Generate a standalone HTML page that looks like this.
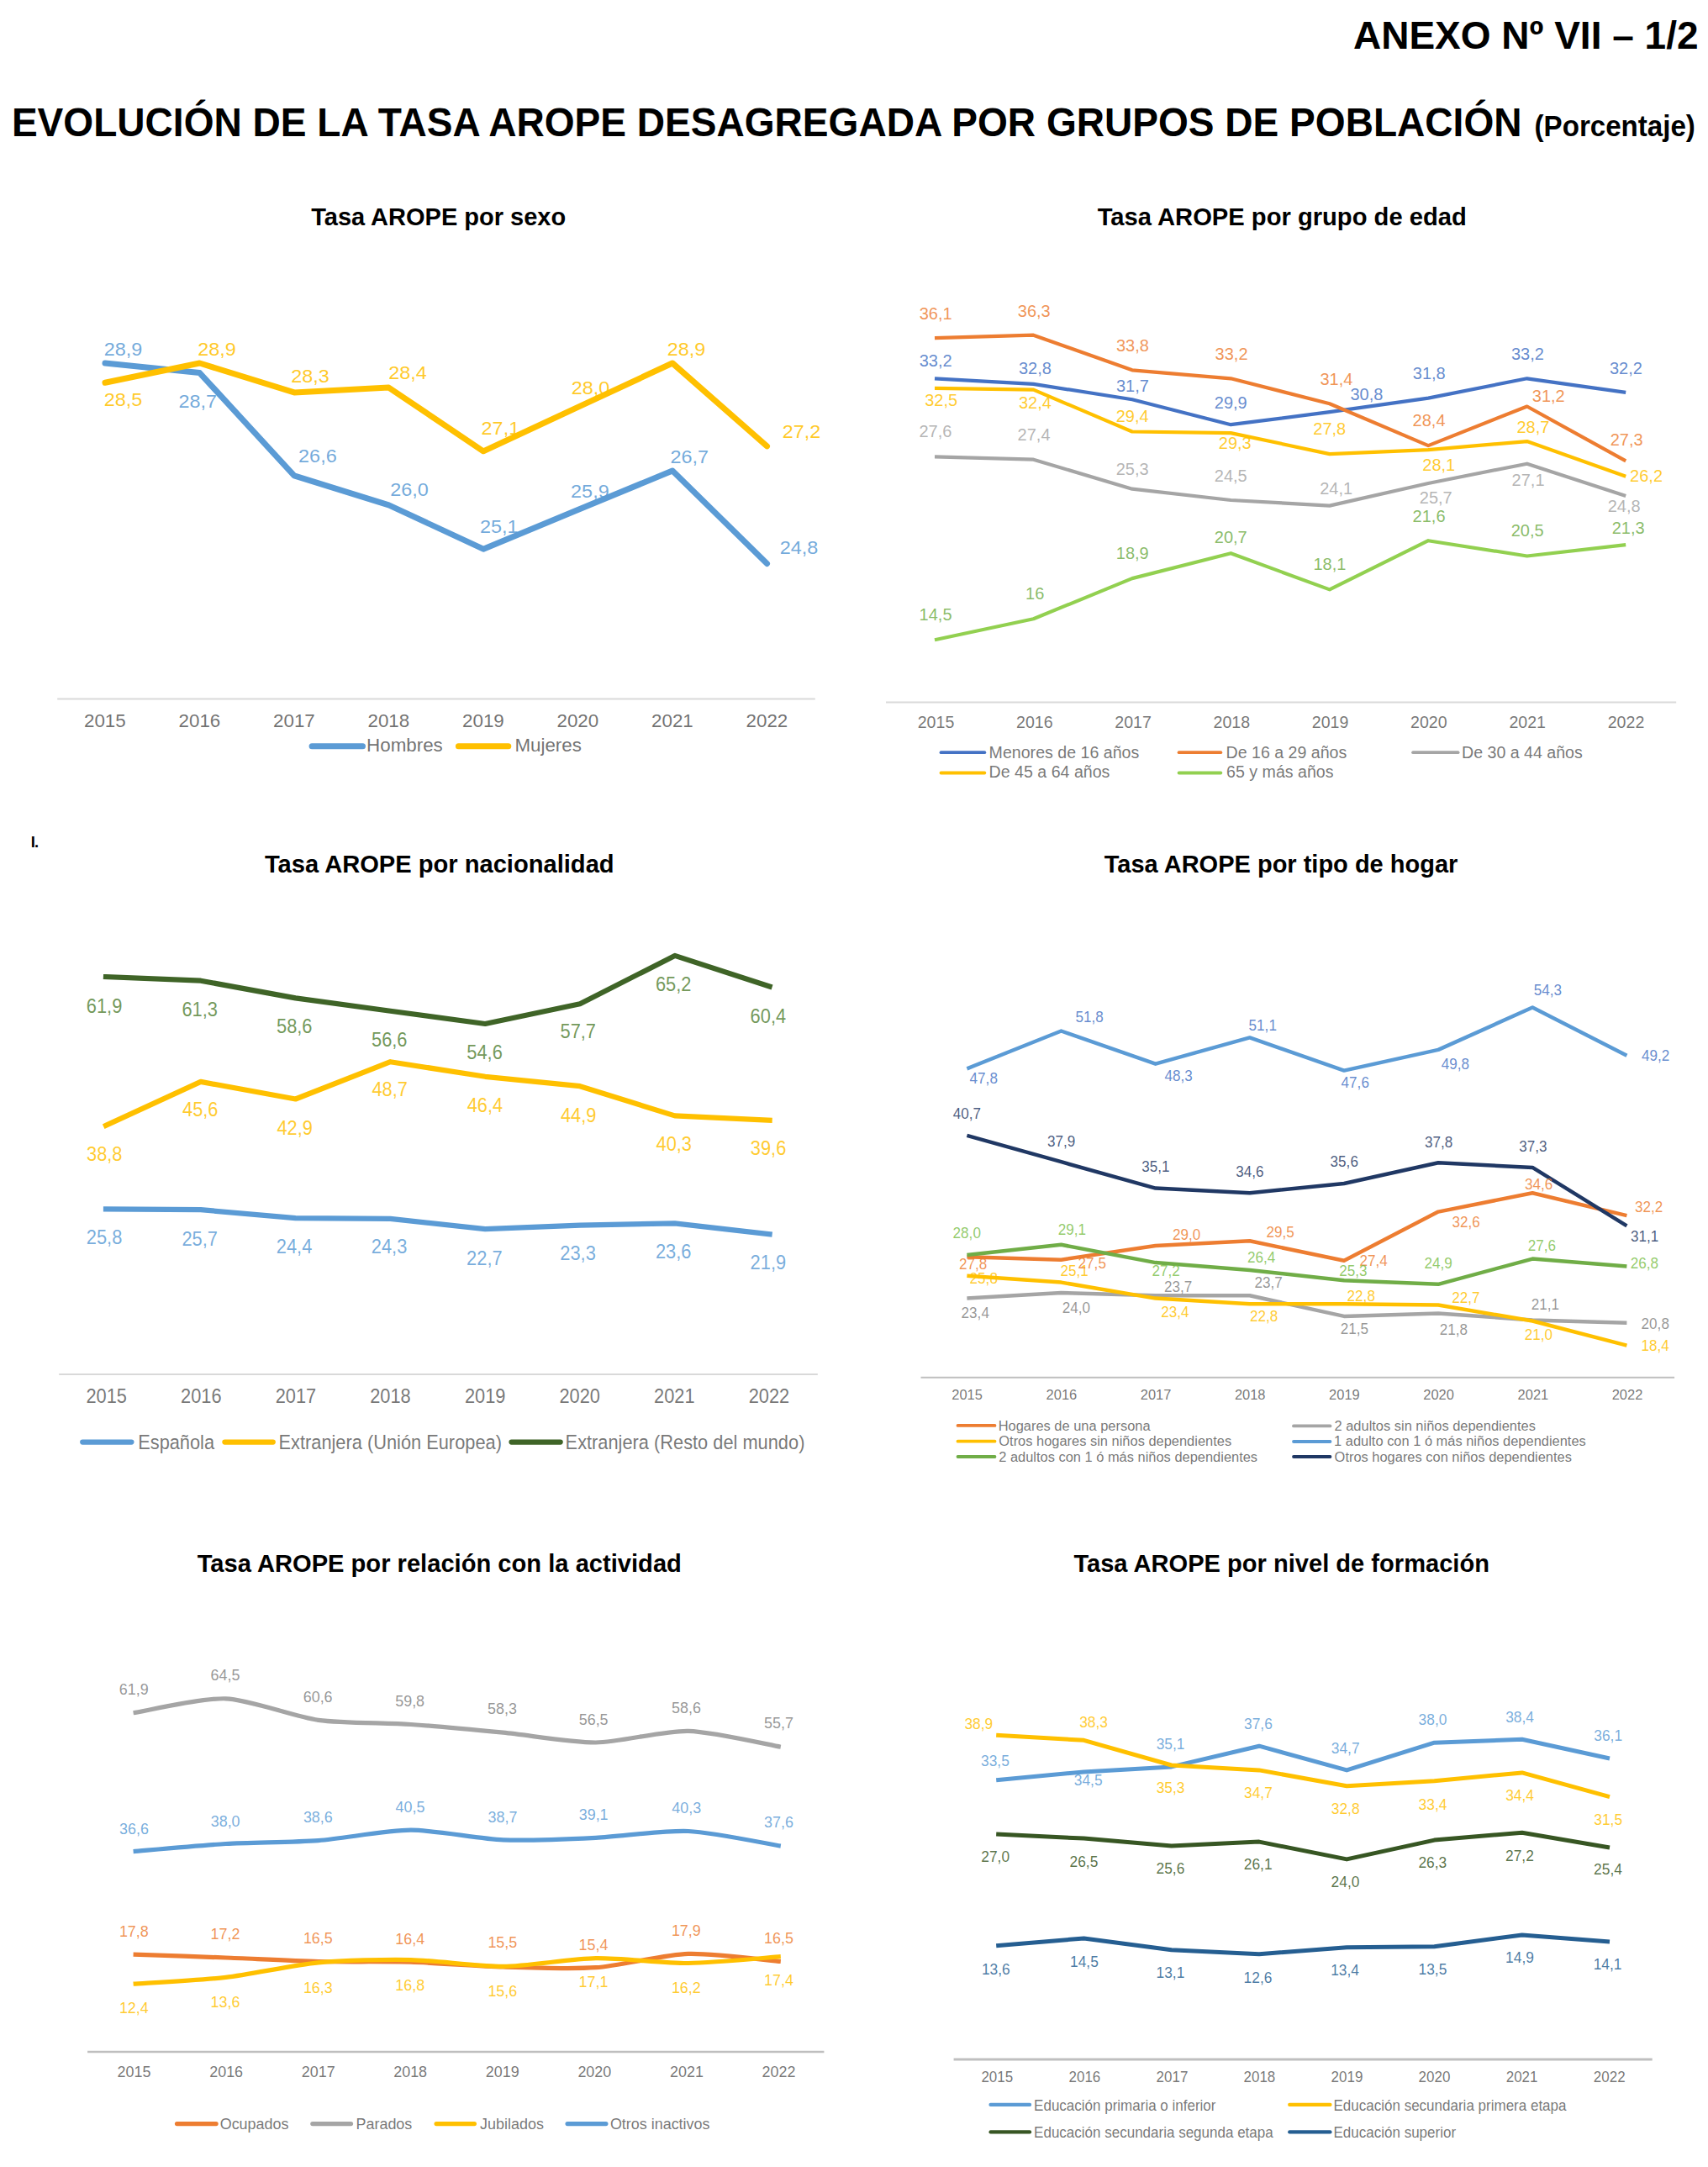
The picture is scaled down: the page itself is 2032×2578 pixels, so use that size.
<!DOCTYPE html>
<html><head><meta charset="utf-8"><title>Anexo VII</title>
<style>
html,body{margin:0;padding:0;background:#fff;}
body{width:2032px;height:2578px;overflow:hidden;}
svg{display:block;font-family:"Liberation Sans", sans-serif;}
</style></head><body>
<svg width="2032" height="2578" viewBox="0 0 2032 2578">
<rect width="2032" height="2578" fill="#fff"/>
<text x="1610.0" y="58.3" font-size="46" fill="#000" font-weight="bold">ANEXO Nº VII – 1/2</text>
<text x="13.9" y="162.0" font-size="47.5" fill="#000" font-weight="bold" textLength="1796.6" lengthAdjust="spacingAndGlyphs">EVOLUCIÓN DE LA TASA AROPE DESAGREGADA POR GRUPOS DE POBLACIÓN</text>
<text x="1825.6" y="162.3" font-size="35.5" fill="#000" font-weight="bold" textLength="191.3" lengthAdjust="spacingAndGlyphs">(Porcentaje)</text>
<text x="36.8" y="1007.8" font-size="18.5" font-weight="bold" letter-spacing="-1">I.</text>
<line x1="68.2" y1="831.6" x2="969.8" y2="831.6" stroke="#D9D9D9" stroke-width="2" stroke-linecap="butt"/>
<text x="100.0" y="865.0" font-size="21.5" fill="#595959" fill-opacity="0.85" textLength="49.7" lengthAdjust="spacingAndGlyphs">2015</text>
<text x="212.6" y="865.0" font-size="21.5" fill="#595959" fill-opacity="0.85" textLength="49.7" lengthAdjust="spacingAndGlyphs">2016</text>
<text x="325.1" y="865.0" font-size="21.5" fill="#595959" fill-opacity="0.85" textLength="49.7" lengthAdjust="spacingAndGlyphs">2017</text>
<text x="437.5" y="865.0" font-size="21.5" fill="#595959" fill-opacity="0.85" textLength="49.7" lengthAdjust="spacingAndGlyphs">2018</text>
<text x="550.1" y="865.0" font-size="21.5" fill="#595959" fill-opacity="0.85" textLength="49.7" lengthAdjust="spacingAndGlyphs">2019</text>
<text x="662.5" y="865.0" font-size="21.5" fill="#595959" fill-opacity="0.85" textLength="49.7" lengthAdjust="spacingAndGlyphs">2020</text>
<text x="775.1" y="865.0" font-size="21.5" fill="#595959" fill-opacity="0.85" textLength="49.7" lengthAdjust="spacingAndGlyphs">2021</text>
<text x="887.6" y="865.0" font-size="21.5" fill="#595959" fill-opacity="0.85" textLength="49.7" lengthAdjust="spacingAndGlyphs">2022</text>
<polyline points="125.0,432.0 237.5,443.6 350.0,565.9 462.5,600.8 575.0,653.2 687.5,606.6 800.0,560.0 912.5,670.6" fill="none" stroke="#5B9BD5" stroke-width="7" stroke-linejoin="round" stroke-linecap="round"/>
<polyline points="125.0,455.3 237.5,432.0 350.0,466.9 462.5,461.1 575.0,536.8 687.5,484.4 800.0,432.0 912.5,530.9" fill="none" stroke="#FFC000" stroke-width="7" stroke-linejoin="round" stroke-linecap="round"/>
<text x="123.8" y="423.1" font-size="21.3" fill="#5B9BD5" fill-opacity="0.85" textLength="45.6" lengthAdjust="spacingAndGlyphs">28,9</text>
<text x="212.4" y="484.7" font-size="21.3" fill="#5B9BD5" fill-opacity="0.85" textLength="45.6" lengthAdjust="spacingAndGlyphs">28,7</text>
<text x="355.1" y="550.1" font-size="21.3" fill="#5B9BD5" fill-opacity="0.85" textLength="45.6" lengthAdjust="spacingAndGlyphs">26,6</text>
<text x="464.3" y="589.7" font-size="21.3" fill="#5B9BD5" fill-opacity="0.85" textLength="45.6" lengthAdjust="spacingAndGlyphs">26,0</text>
<text x="571.0" y="633.6" font-size="21.3" fill="#5B9BD5" fill-opacity="0.85" textLength="45.6" lengthAdjust="spacingAndGlyphs">25,1</text>
<text x="679.1" y="591.6" font-size="21.3" fill="#5B9BD5" fill-opacity="0.85" textLength="45.6" lengthAdjust="spacingAndGlyphs">25,9</text>
<text x="797.5" y="550.5" font-size="21.3" fill="#5B9BD5" fill-opacity="0.85" textLength="45.6" lengthAdjust="spacingAndGlyphs">26,7</text>
<text x="927.8" y="658.5" font-size="21.3" fill="#5B9BD5" fill-opacity="0.85" textLength="45.6" lengthAdjust="spacingAndGlyphs">24,8</text>
<text x="123.8" y="483.2" font-size="21.3" fill="#FFC000" fill-opacity="0.85" textLength="45.6" lengthAdjust="spacingAndGlyphs">28,5</text>
<text x="235.3" y="423.0" font-size="21.3" fill="#FFC000" fill-opacity="0.85" textLength="45.6" lengthAdjust="spacingAndGlyphs">28,9</text>
<text x="346.2" y="455.3" font-size="21.3" fill="#FFC000" fill-opacity="0.85" textLength="45.6" lengthAdjust="spacingAndGlyphs">28,3</text>
<text x="462.2" y="450.5" font-size="21.3" fill="#FFC000" fill-opacity="0.85" textLength="45.6" lengthAdjust="spacingAndGlyphs">28,4</text>
<text x="572.6" y="517.0" font-size="21.3" fill="#FFC000" fill-opacity="0.85" textLength="45.6" lengthAdjust="spacingAndGlyphs">27,1</text>
<text x="679.7" y="469.2" font-size="21.3" fill="#FFC000" fill-opacity="0.85" textLength="45.6" lengthAdjust="spacingAndGlyphs">28,0</text>
<text x="793.8" y="423.2" font-size="21.3" fill="#FFC000" fill-opacity="0.85" textLength="45.6" lengthAdjust="spacingAndGlyphs">28,9</text>
<text x="930.8" y="521.0" font-size="21.3" fill="#FFC000" fill-opacity="0.85" textLength="45.6" lengthAdjust="spacingAndGlyphs">27,2</text>
<line x1="371.1" y1="887.8" x2="431.5" y2="887.8" stroke="#5B9BD5" stroke-width="7" stroke-linecap="round"/>
<text x="436.1" y="894.3" font-size="21.5" fill="#595959" fill-opacity="0.85" textLength="90.7" lengthAdjust="spacingAndGlyphs">Hombres</text>
<line x1="545.4" y1="887.8" x2="604.8" y2="887.8" stroke="#FFC000" stroke-width="7" stroke-linecap="round"/>
<text x="612.4" y="894.3" font-size="21.5" fill="#595959" fill-opacity="0.85" textLength="79.5" lengthAdjust="spacingAndGlyphs">Mujeres</text>
<text x="370.2" y="267.9" font-size="29" fill="#000" font-weight="bold">Tasa AROPE por sexo</text>
<line x1="1054.0" y1="835.5" x2="1994.2" y2="835.5" stroke="#D9D9D9" stroke-width="2" stroke-linecap="butt"/>
<text x="1091.7" y="866.0" font-size="19.6" fill="#595959" fill-opacity="0.82">2015</text>
<text x="1209.0" y="866.0" font-size="19.6" fill="#595959" fill-opacity="0.82">2016</text>
<text x="1326.3" y="866.0" font-size="19.6" fill="#595959" fill-opacity="0.82">2017</text>
<text x="1443.5" y="866.0" font-size="19.6" fill="#595959" fill-opacity="0.82">2018</text>
<text x="1560.8" y="866.0" font-size="19.6" fill="#595959" fill-opacity="0.82">2019</text>
<text x="1678.0" y="866.0" font-size="19.6" fill="#595959" fill-opacity="0.82">2020</text>
<text x="1795.4" y="866.0" font-size="19.6" fill="#595959" fill-opacity="0.82">2021</text>
<text x="1912.7" y="866.0" font-size="19.6" fill="#595959" fill-opacity="0.82">2022</text>
<polyline points="1112.0,450.3 1229.5,456.9 1346.9,475.2 1464.3,505.2 1581.8,490.2 1699.2,473.6 1816.7,450.3 1934.2,466.9" fill="none" stroke="#4472C4" stroke-width="4.2" stroke-linejoin="round" stroke-linecap="butt"/>
<polyline points="1112.0,402.1 1229.5,398.7 1346.9,440.3 1464.3,450.3 1581.8,480.2 1699.2,530.1 1816.7,483.5 1934.2,548.4" fill="none" stroke="#ED7D31" stroke-width="4.2" stroke-linejoin="round" stroke-linecap="butt"/>
<polyline points="1112.0,543.4 1229.5,546.7 1346.9,581.7 1464.3,595.0 1581.8,601.6 1699.2,575.0 1816.7,551.7 1934.2,590.0" fill="none" stroke="#A5A5A5" stroke-width="4.2" stroke-linejoin="round" stroke-linecap="butt"/>
<polyline points="1112.0,461.9 1229.5,463.6 1346.9,513.5 1464.3,515.1 1581.8,540.1 1699.2,535.1 1816.7,525.1 1934.2,566.7" fill="none" stroke="#FFC000" stroke-width="4.2" stroke-linejoin="round" stroke-linecap="butt"/>
<polyline points="1112.0,761.3 1229.5,736.3 1346.9,688.1 1464.3,658.2 1581.8,701.4 1699.2,643.2 1816.7,661.5 1934.2,648.2" fill="none" stroke="#92D050" stroke-width="4.2" stroke-linejoin="round" stroke-linecap="butt"/>
<text x="1093.7" y="436.0" font-size="20" fill="#4472C4" fill-opacity="0.82">33,2</text>
<text x="1212.0" y="444.5" font-size="20" fill="#4472C4" fill-opacity="0.82">32,8</text>
<text x="1327.9" y="465.9" font-size="20" fill="#4472C4" fill-opacity="0.82">31,7</text>
<text x="1444.8" y="485.5" font-size="20" fill="#4472C4" fill-opacity="0.82">29,9</text>
<text x="1606.4" y="475.5" font-size="20" fill="#4472C4" fill-opacity="0.82">30,8</text>
<text x="1680.8" y="450.7" font-size="20" fill="#4472C4" fill-opacity="0.82">31,8</text>
<text x="1797.9" y="427.8" font-size="20" fill="#4472C4" fill-opacity="0.82">33,2</text>
<text x="1915.0" y="444.8" font-size="20" fill="#4472C4" fill-opacity="0.82">32,2</text>
<text x="1093.7" y="380.1" font-size="20" fill="#ED7D31" fill-opacity="0.82">36,1</text>
<text x="1210.8" y="377.2" font-size="20" fill="#ED7D31" fill-opacity="0.82">36,3</text>
<text x="1327.9" y="418.2" font-size="20" fill="#ED7D31" fill-opacity="0.82">33,8</text>
<text x="1445.6" y="427.8" font-size="20" fill="#ED7D31" fill-opacity="0.82">33,2</text>
<text x="1570.4" y="457.7" font-size="20" fill="#ED7D31" fill-opacity="0.82">31,4</text>
<text x="1680.6" y="506.9" font-size="20" fill="#ED7D31" fill-opacity="0.82">28,4</text>
<text x="1822.8" y="477.6" font-size="20" fill="#ED7D31" fill-opacity="0.82">31,2</text>
<text x="1915.7" y="529.7" font-size="20" fill="#ED7D31" fill-opacity="0.82">27,3</text>
<text x="1093.5" y="520.0" font-size="20" fill="#A5A5A5" fill-opacity="0.82">27,6</text>
<text x="1210.6" y="523.8" font-size="20" fill="#A5A5A5" fill-opacity="0.82">27,4</text>
<text x="1327.7" y="564.8" font-size="20" fill="#A5A5A5" fill-opacity="0.82">25,3</text>
<text x="1444.8" y="572.7" font-size="20" fill="#A5A5A5" fill-opacity="0.82">24,5</text>
<text x="1570.2" y="588.2" font-size="20" fill="#A5A5A5" fill-opacity="0.82">24,1</text>
<text x="1688.8" y="599.1" font-size="20" fill="#A5A5A5" fill-opacity="0.82">25,7</text>
<text x="1798.6" y="577.7" font-size="20" fill="#A5A5A5" fill-opacity="0.82">27,1</text>
<text x="1912.7" y="608.7" font-size="20" fill="#A5A5A5" fill-opacity="0.82">24,8</text>
<text x="1100.2" y="482.9" font-size="20" fill="#FFC000" fill-opacity="0.82">32,5</text>
<text x="1212.0" y="485.5" font-size="20" fill="#FFC000" fill-opacity="0.82">32,4</text>
<text x="1327.7" y="501.9" font-size="20" fill="#FFC000" fill-opacity="0.82">29,4</text>
<text x="1449.8" y="533.8" font-size="20" fill="#FFC000" fill-opacity="0.82">29,3</text>
<text x="1562.3" y="516.5" font-size="20" fill="#FFC000" fill-opacity="0.82">27,8</text>
<text x="1692.3" y="559.6" font-size="20" fill="#FFC000" fill-opacity="0.82">28,1</text>
<text x="1804.4" y="515.1" font-size="20" fill="#FFC000" fill-opacity="0.82">28,7</text>
<text x="1939.1" y="572.7" font-size="20" fill="#FFC000" fill-opacity="0.82">26,2</text>
<text x="1093.6" y="737.8" font-size="20" fill="#70AD47" fill-opacity="0.82">14,5</text>
<text x="1220.1" y="713.0" font-size="20" fill="#70AD47" fill-opacity="0.82">16</text>
<text x="1327.8" y="665.2" font-size="20" fill="#70AD47" fill-opacity="0.82">18,9</text>
<text x="1444.8" y="645.6" font-size="20" fill="#70AD47" fill-opacity="0.82">20,7</text>
<text x="1562.4" y="677.8" font-size="20" fill="#70AD47" fill-opacity="0.82">18,1</text>
<text x="1680.6" y="620.7" font-size="20" fill="#70AD47" fill-opacity="0.82">21,6</text>
<text x="1797.7" y="638.3" font-size="20" fill="#70AD47" fill-opacity="0.82">20,5</text>
<text x="1917.7" y="635.4" font-size="20" fill="#70AD47" fill-opacity="0.82">21,3</text>
<line x1="1119.5" y1="895.2" x2="1171.3" y2="895.2" stroke="#4472C4" stroke-width="3.8" stroke-linecap="round"/>
<text x="1176.6" y="902.0" font-size="19.6" fill="#595959" fill-opacity="0.82">Menores de 16 años</text>
<line x1="1402.6" y1="895.2" x2="1452.3" y2="895.2" stroke="#ED7D31" stroke-width="3.8" stroke-linecap="round"/>
<text x="1458.5" y="902.0" font-size="19.6" fill="#595959" fill-opacity="0.82">De 16 a 29 años</text>
<line x1="1681.1" y1="895.2" x2="1734.6" y2="895.2" stroke="#A5A5A5" stroke-width="3.8" stroke-linecap="round"/>
<text x="1739.0" y="902.0" font-size="19.6" fill="#595959" fill-opacity="0.82">De 30 a 44 años</text>
<line x1="1119.5" y1="919.5" x2="1171.3" y2="919.5" stroke="#FFC000" stroke-width="3.8" stroke-linecap="round"/>
<text x="1176.6" y="924.8" font-size="19.6" fill="#595959" fill-opacity="0.82">De 45 a 64 años</text>
<line x1="1402.6" y1="919.5" x2="1452.3" y2="919.5" stroke="#92D050" stroke-width="3.8" stroke-linecap="round"/>
<text x="1459.1" y="924.8" font-size="19.6" fill="#595959" fill-opacity="0.82">65 y más años</text>
<text x="1305.7" y="268.2" font-size="29" fill="#000" font-weight="bold" textLength="439.1" lengthAdjust="spacingAndGlyphs">Tasa AROPE por grupo de edad</text>
<line x1="70.2" y1="1635.0" x2="972.8" y2="1635.0" stroke="#D9D9D9" stroke-width="2" stroke-linecap="butt"/>
<text x="102.4" y="1668.6" font-size="24.5" fill="#595959" fill-opacity="0.82" textLength="48.5" lengthAdjust="spacingAndGlyphs">2015</text>
<text x="215.1" y="1668.6" font-size="24.5" fill="#595959" fill-opacity="0.82" textLength="48.5" lengthAdjust="spacingAndGlyphs">2016</text>
<text x="327.7" y="1668.6" font-size="24.5" fill="#595959" fill-opacity="0.82" textLength="48.5" lengthAdjust="spacingAndGlyphs">2017</text>
<text x="440.2" y="1668.6" font-size="24.5" fill="#595959" fill-opacity="0.82" textLength="48.5" lengthAdjust="spacingAndGlyphs">2018</text>
<text x="552.9" y="1668.6" font-size="24.5" fill="#595959" fill-opacity="0.82" textLength="48.5" lengthAdjust="spacingAndGlyphs">2019</text>
<text x="665.4" y="1668.6" font-size="24.5" fill="#595959" fill-opacity="0.82" textLength="48.5" lengthAdjust="spacingAndGlyphs">2020</text>
<text x="778.1" y="1668.6" font-size="24.5" fill="#595959" fill-opacity="0.82" textLength="48.5" lengthAdjust="spacingAndGlyphs">2021</text>
<text x="890.7" y="1668.6" font-size="24.5" fill="#595959" fill-opacity="0.82" textLength="48.5" lengthAdjust="spacingAndGlyphs">2022</text>
<polyline points="126.0,1438.4 238.8,1439.2 351.6,1449.1 464.4,1449.9 577.2,1462.2 690.0,1457.6 802.8,1455.3 915.6,1468.3" fill="none" stroke="#5B9BD5" stroke-width="6.2" stroke-linejoin="round" stroke-linecap="square"/>
<polyline points="126.0,1338.9 238.8,1286.9 351.6,1307.5 464.4,1263.2 577.2,1280.8 690.0,1292.2 802.8,1327.4 915.6,1332.8" fill="none" stroke="#FFC000" stroke-width="6.2" stroke-linejoin="round" stroke-linecap="square"/>
<polyline points="126.0,1162.1 238.8,1166.7 351.6,1187.4 464.4,1202.7 577.2,1218.0 690.0,1194.3 802.8,1136.9 915.6,1173.6" fill="none" stroke="#3F6427" stroke-width="6.2" stroke-linejoin="round" stroke-linecap="square"/>
<text x="102.8" y="1479.9" font-size="24" fill="#5B9BD5" fill-opacity="0.82" textLength="42.5" lengthAdjust="spacingAndGlyphs">25,8</text>
<text x="216.4" y="1482.0" font-size="24" fill="#5B9BD5" fill-opacity="0.82" textLength="42.5" lengthAdjust="spacingAndGlyphs">25,7</text>
<text x="328.8" y="1490.7" font-size="24" fill="#5B9BD5" fill-opacity="0.82" textLength="42.5" lengthAdjust="spacingAndGlyphs">24,4</text>
<text x="441.8" y="1490.7" font-size="24" fill="#5B9BD5" fill-opacity="0.82" textLength="42.5" lengthAdjust="spacingAndGlyphs">24,3</text>
<text x="555.1" y="1504.5" font-size="24" fill="#5B9BD5" fill-opacity="0.82" textLength="42.5" lengthAdjust="spacingAndGlyphs">22,7</text>
<text x="666.3" y="1498.7" font-size="24" fill="#5B9BD5" fill-opacity="0.82" textLength="42.5" lengthAdjust="spacingAndGlyphs">23,3</text>
<text x="779.9" y="1496.6" font-size="24" fill="#5B9BD5" fill-opacity="0.82" textLength="42.5" lengthAdjust="spacingAndGlyphs">23,6</text>
<text x="892.6" y="1509.8" font-size="24" fill="#5B9BD5" fill-opacity="0.82" textLength="42.5" lengthAdjust="spacingAndGlyphs">21,9</text>
<text x="103.0" y="1380.8" font-size="24" fill="#FFC000" fill-opacity="0.82" textLength="42.5" lengthAdjust="spacingAndGlyphs">38,8</text>
<text x="217.0" y="1328.1" font-size="24" fill="#FFC000" fill-opacity="0.82" textLength="42.5" lengthAdjust="spacingAndGlyphs">45,6</text>
<text x="329.4" y="1349.5" font-size="24" fill="#FFC000" fill-opacity="0.82" textLength="42.5" lengthAdjust="spacingAndGlyphs">42,9</text>
<text x="442.4" y="1304.1" font-size="24" fill="#FFC000" fill-opacity="0.82" textLength="42.5" lengthAdjust="spacingAndGlyphs">48,7</text>
<text x="555.7" y="1322.8" font-size="24" fill="#FFC000" fill-opacity="0.82" textLength="42.5" lengthAdjust="spacingAndGlyphs">46,4</text>
<text x="666.9" y="1334.5" font-size="24" fill="#FFC000" fill-opacity="0.82" textLength="42.5" lengthAdjust="spacingAndGlyphs">44,9</text>
<text x="780.5" y="1369.1" font-size="24" fill="#FFC000" fill-opacity="0.82" textLength="42.5" lengthAdjust="spacingAndGlyphs">40,3</text>
<text x="892.8" y="1374.3" font-size="24" fill="#FFC000" fill-opacity="0.82" textLength="42.5" lengthAdjust="spacingAndGlyphs">39,6</text>
<text x="102.8" y="1204.6" font-size="24" fill="#548235" fill-opacity="0.82" textLength="42.5" lengthAdjust="spacingAndGlyphs">61,9</text>
<text x="216.4" y="1208.7" font-size="24" fill="#548235" fill-opacity="0.82" textLength="42.5" lengthAdjust="spacingAndGlyphs">61,3</text>
<text x="329.0" y="1229.4" font-size="24" fill="#548235" fill-opacity="0.82" textLength="42.5" lengthAdjust="spacingAndGlyphs">58,6</text>
<text x="442.0" y="1244.7" font-size="24" fill="#548235" fill-opacity="0.82" textLength="42.5" lengthAdjust="spacingAndGlyphs">56,6</text>
<text x="555.3" y="1260.2" font-size="24" fill="#548235" fill-opacity="0.82" textLength="42.5" lengthAdjust="spacingAndGlyphs">54,6</text>
<text x="666.5" y="1235.3" font-size="24" fill="#548235" fill-opacity="0.82" textLength="42.5" lengthAdjust="spacingAndGlyphs">57,7</text>
<text x="779.9" y="1178.8" font-size="24" fill="#548235" fill-opacity="0.82" textLength="42.5" lengthAdjust="spacingAndGlyphs">65,2</text>
<text x="892.6" y="1216.9" font-size="24" fill="#548235" fill-opacity="0.82" textLength="42.5" lengthAdjust="spacingAndGlyphs">60,4</text>
<line x1="98.2" y1="1715.6" x2="156.4" y2="1715.6" stroke="#5B9BD5" stroke-width="6.2" stroke-linecap="round"/>
<text x="164.2" y="1723.6" font-size="24.5" fill="#595959" fill-opacity="0.82" textLength="90.9" lengthAdjust="spacingAndGlyphs">Española</text>
<line x1="267.4" y1="1715.6" x2="324.8" y2="1715.6" stroke="#FFC000" stroke-width="6.2" stroke-linecap="round"/>
<text x="331.5" y="1723.6" font-size="24.5" fill="#595959" fill-opacity="0.82" textLength="265.4" lengthAdjust="spacingAndGlyphs">Extranjera (Unión Europea)</text>
<line x1="608.5" y1="1715.6" x2="666.7" y2="1715.6" stroke="#3F6427" stroke-width="6.2" stroke-linecap="round"/>
<text x="672.6" y="1723.6" font-size="24.5" fill="#595959" fill-opacity="0.82" textLength="284.8" lengthAdjust="spacingAndGlyphs">Extranjera (Resto del mundo)</text>
<text x="315.0" y="1038.3" font-size="29" fill="#000" font-weight="bold" textLength="415.6" lengthAdjust="spacingAndGlyphs">Tasa AROPE por nacionalidad</text>
<line x1="1095.5" y1="1638.8" x2="1992.1" y2="1638.8" stroke="#BFBFBF" stroke-width="2" stroke-linecap="butt"/>
<text x="1132.3" y="1665.0" font-size="17.3" fill="#595959" fill-opacity="0.82" textLength="36.6" lengthAdjust="spacingAndGlyphs">2015</text>
<text x="1244.6" y="1665.0" font-size="17.3" fill="#595959" fill-opacity="0.82" textLength="36.6" lengthAdjust="spacingAndGlyphs">2016</text>
<text x="1356.8" y="1665.0" font-size="17.3" fill="#595959" fill-opacity="0.82" textLength="36.6" lengthAdjust="spacingAndGlyphs">2017</text>
<text x="1468.9" y="1665.0" font-size="17.3" fill="#595959" fill-opacity="0.82" textLength="36.6" lengthAdjust="spacingAndGlyphs">2018</text>
<text x="1581.1" y="1665.0" font-size="17.3" fill="#595959" fill-opacity="0.82" textLength="36.6" lengthAdjust="spacingAndGlyphs">2019</text>
<text x="1693.3" y="1665.0" font-size="17.3" fill="#595959" fill-opacity="0.82" textLength="36.6" lengthAdjust="spacingAndGlyphs">2020</text>
<text x="1805.6" y="1665.0" font-size="17.3" fill="#595959" fill-opacity="0.82" textLength="36.6" lengthAdjust="spacingAndGlyphs">2021</text>
<text x="1917.7" y="1665.0" font-size="17.3" fill="#595959" fill-opacity="0.82" textLength="36.6" lengthAdjust="spacingAndGlyphs">2022</text>
<polyline points="1150.4,1544.6 1262.5,1537.9 1374.7,1541.3 1486.8,1541.3 1599.0,1565.9 1711.1,1562.5 1823.2,1570.4 1935.4,1573.7" fill="none" stroke="#A5A5A5" stroke-width="4.5" stroke-linejoin="round" stroke-linecap="butt"/>
<polyline points="1150.4,1517.7 1262.5,1525.6 1374.7,1544.6 1486.8,1551.3 1599.0,1551.3 1711.1,1552.5 1823.2,1571.5 1935.4,1600.6" fill="none" stroke="#FFC000" stroke-width="4.5" stroke-linejoin="round" stroke-linecap="butt"/>
<polyline points="1150.4,1495.3 1262.5,1498.7 1374.7,1481.9 1486.8,1476.3 1599.0,1499.8 1711.1,1441.6 1823.2,1419.2 1935.4,1446.1" fill="none" stroke="#ED7D31" stroke-width="4.5" stroke-linejoin="round" stroke-linecap="butt"/>
<polyline points="1150.4,1493.1 1262.5,1480.8 1374.7,1502.1 1486.8,1511.0 1599.0,1523.3 1711.1,1527.8 1823.2,1497.6 1935.4,1506.5" fill="none" stroke="#70AD47" stroke-width="4.5" stroke-linejoin="round" stroke-linecap="butt"/>
<polyline points="1150.4,1271.3 1262.5,1226.5 1374.7,1265.7 1486.8,1234.4 1599.0,1273.6 1711.1,1248.9 1823.2,1198.5 1935.4,1255.7" fill="none" stroke="#5B9BD5" stroke-width="4.5" stroke-linejoin="round" stroke-linecap="butt"/>
<polyline points="1150.4,1350.9 1262.5,1382.2 1374.7,1413.6 1486.8,1419.2 1599.0,1408.0 1711.1,1383.3 1823.2,1388.9 1935.4,1458.4" fill="none" stroke="#203864" stroke-width="4.5" stroke-linejoin="round" stroke-linecap="butt"/>
<text x="1143.6" y="1567.6" font-size="17.8" fill="#7F7F7F" fill-opacity="0.82" textLength="33.3" lengthAdjust="spacingAndGlyphs">23,4</text>
<text x="1263.7" y="1562.0" font-size="17.8" fill="#7F7F7F" fill-opacity="0.82" textLength="33.3" lengthAdjust="spacingAndGlyphs">24,0</text>
<text x="1385.0" y="1536.9" font-size="17.8" fill="#7F7F7F" fill-opacity="0.82" textLength="33.3" lengthAdjust="spacingAndGlyphs">23,7</text>
<text x="1492.5" y="1532.4" font-size="17.8" fill="#7F7F7F" fill-opacity="0.82" textLength="33.3" lengthAdjust="spacingAndGlyphs">23,7</text>
<text x="1594.8" y="1586.5" font-size="17.8" fill="#7F7F7F" fill-opacity="0.82" textLength="33.3" lengthAdjust="spacingAndGlyphs">21,5</text>
<text x="1712.7" y="1588.0" font-size="17.8" fill="#7F7F7F" fill-opacity="0.82" textLength="33.3" lengthAdjust="spacingAndGlyphs">21,8</text>
<text x="1821.8" y="1558.1" font-size="17.8" fill="#7F7F7F" fill-opacity="0.82" textLength="33.3" lengthAdjust="spacingAndGlyphs">21,1</text>
<text x="1952.6" y="1580.6" font-size="17.8" fill="#7F7F7F" fill-opacity="0.82" textLength="33.3" lengthAdjust="spacingAndGlyphs">20,8</text>
<text x="1153.6" y="1526.8" font-size="17.8" fill="#FFC000" fill-opacity="0.82" textLength="33.3" lengthAdjust="spacingAndGlyphs">25,8</text>
<text x="1261.5" y="1518.4" font-size="17.8" fill="#FFC000" fill-opacity="0.82" textLength="33.3" lengthAdjust="spacingAndGlyphs">25,1</text>
<text x="1381.2" y="1566.9" font-size="17.8" fill="#FFC000" fill-opacity="0.82" textLength="33.3" lengthAdjust="spacingAndGlyphs">23,4</text>
<text x="1486.9" y="1571.8" font-size="17.8" fill="#FFC000" fill-opacity="0.82" textLength="33.3" lengthAdjust="spacingAndGlyphs">22,8</text>
<text x="1602.6" y="1548.0" font-size="17.8" fill="#FFC000" fill-opacity="0.82" textLength="33.3" lengthAdjust="spacingAndGlyphs">22,8</text>
<text x="1727.2" y="1549.5" font-size="17.8" fill="#FFC000" fill-opacity="0.82" textLength="33.3" lengthAdjust="spacingAndGlyphs">22,7</text>
<text x="1813.7" y="1594.1" font-size="17.8" fill="#FFC000" fill-opacity="0.82" textLength="33.3" lengthAdjust="spacingAndGlyphs">21,0</text>
<text x="1952.5" y="1606.5" font-size="17.8" fill="#FFC000" fill-opacity="0.82" textLength="33.3" lengthAdjust="spacingAndGlyphs">18,4</text>
<text x="1140.9" y="1510.2" font-size="17.8" fill="#ED7D31" fill-opacity="0.82" textLength="33.3" lengthAdjust="spacingAndGlyphs">27,8</text>
<text x="1282.6" y="1508.6" font-size="17.8" fill="#ED7D31" fill-opacity="0.82" textLength="33.3" lengthAdjust="spacingAndGlyphs">27,5</text>
<text x="1395.0" y="1474.6" font-size="17.8" fill="#ED7D31" fill-opacity="0.82" textLength="33.3" lengthAdjust="spacingAndGlyphs">29,0</text>
<text x="1506.5" y="1472.3" font-size="17.8" fill="#ED7D31" fill-opacity="0.82" textLength="33.3" lengthAdjust="spacingAndGlyphs">29,5</text>
<text x="1617.5" y="1505.7" font-size="17.8" fill="#ED7D31" fill-opacity="0.82" textLength="33.3" lengthAdjust="spacingAndGlyphs">27,4</text>
<text x="1727.4" y="1459.7" font-size="17.8" fill="#ED7D31" fill-opacity="0.82" textLength="33.3" lengthAdjust="spacingAndGlyphs">32,6</text>
<text x="1813.9" y="1414.7" font-size="17.8" fill="#ED7D31" fill-opacity="0.82" textLength="33.3" lengthAdjust="spacingAndGlyphs">34,6</text>
<text x="1944.9" y="1441.7" font-size="17.8" fill="#ED7D31" fill-opacity="0.82" textLength="33.3" lengthAdjust="spacingAndGlyphs">32,2</text>
<text x="1133.6" y="1473.4" font-size="17.8" fill="#7CC04B" fill-opacity="0.82" textLength="33.3" lengthAdjust="spacingAndGlyphs">28,0</text>
<text x="1258.8" y="1469.4" font-size="17.8" fill="#7CC04B" fill-opacity="0.82" textLength="33.3" lengthAdjust="spacingAndGlyphs">29,1</text>
<text x="1370.5" y="1518.4" font-size="17.8" fill="#7CC04B" fill-opacity="0.82" textLength="33.3" lengthAdjust="spacingAndGlyphs">27,2</text>
<text x="1484.0" y="1501.9" font-size="17.8" fill="#7CC04B" fill-opacity="0.82" textLength="33.3" lengthAdjust="spacingAndGlyphs">26,4</text>
<text x="1593.3" y="1517.5" font-size="17.8" fill="#7CC04B" fill-opacity="0.82" textLength="33.3" lengthAdjust="spacingAndGlyphs">25,3</text>
<text x="1694.5" y="1509.0" font-size="17.8" fill="#7CC04B" fill-opacity="0.82" textLength="33.3" lengthAdjust="spacingAndGlyphs">24,9</text>
<text x="1817.7" y="1487.8" font-size="17.8" fill="#7CC04B" fill-opacity="0.82" textLength="33.3" lengthAdjust="spacingAndGlyphs">27,6</text>
<text x="1939.8" y="1508.8" font-size="17.8" fill="#7CC04B" fill-opacity="0.82" textLength="33.3" lengthAdjust="spacingAndGlyphs">26,8</text>
<text x="1153.6" y="1288.8" font-size="17.8" fill="#4472C4" fill-opacity="0.82" textLength="33.3" lengthAdjust="spacingAndGlyphs">47,8</text>
<text x="1279.5" y="1216.2" font-size="17.8" fill="#4472C4" fill-opacity="0.82" textLength="33.3" lengthAdjust="spacingAndGlyphs">51,8</text>
<text x="1385.5" y="1286.2" font-size="17.8" fill="#4472C4" fill-opacity="0.82" textLength="33.3" lengthAdjust="spacingAndGlyphs">48,3</text>
<text x="1485.6" y="1225.7" font-size="17.8" fill="#4472C4" fill-opacity="0.82" textLength="33.3" lengthAdjust="spacingAndGlyphs">51,1</text>
<text x="1595.6" y="1293.9" font-size="17.8" fill="#4472C4" fill-opacity="0.82" textLength="33.3" lengthAdjust="spacingAndGlyphs">47,6</text>
<text x="1714.7" y="1271.8" font-size="17.8" fill="#4472C4" fill-opacity="0.82" textLength="33.3" lengthAdjust="spacingAndGlyphs">49,8</text>
<text x="1824.8" y="1183.7" font-size="17.8" fill="#4472C4" fill-opacity="0.82" textLength="33.3" lengthAdjust="spacingAndGlyphs">54,3</text>
<text x="1953.0" y="1262.3" font-size="17.8" fill="#4472C4" fill-opacity="0.82" textLength="33.3" lengthAdjust="spacingAndGlyphs">49,2</text>
<text x="1133.8" y="1330.8" font-size="17.8" fill="#1F3864" fill-opacity="0.82" textLength="33.3" lengthAdjust="spacingAndGlyphs">40,7</text>
<text x="1246.0" y="1363.5" font-size="17.8" fill="#1F3864" fill-opacity="0.82" textLength="33.3" lengthAdjust="spacingAndGlyphs">37,9</text>
<text x="1358.3" y="1393.6" font-size="17.8" fill="#1F3864" fill-opacity="0.82" textLength="33.3" lengthAdjust="spacingAndGlyphs">35,1</text>
<text x="1470.3" y="1399.5" font-size="17.8" fill="#1F3864" fill-opacity="0.82" textLength="33.3" lengthAdjust="spacingAndGlyphs">34,6</text>
<text x="1582.6" y="1388.2" font-size="17.8" fill="#1F3864" fill-opacity="0.82" textLength="33.3" lengthAdjust="spacingAndGlyphs">35,6</text>
<text x="1695.0" y="1364.7" font-size="17.8" fill="#1F3864" fill-opacity="0.82" textLength="33.3" lengthAdjust="spacingAndGlyphs">37,8</text>
<text x="1807.3" y="1370.1" font-size="17.8" fill="#1F3864" fill-opacity="0.82" textLength="33.3" lengthAdjust="spacingAndGlyphs">37,3</text>
<text x="1940.0" y="1476.8" font-size="17.8" fill="#1F3864" fill-opacity="0.82" textLength="33.3" lengthAdjust="spacingAndGlyphs">31,1</text>
<line x1="1139.5" y1="1695.9" x2="1183.5" y2="1695.9" stroke="#ED7D31" stroke-width="3.8" stroke-linecap="round"/>
<text x="1187.7" y="1701.5" font-size="17.3" fill="#595959" fill-opacity="0.82" textLength="180.9" lengthAdjust="spacingAndGlyphs">Hogares de una persona</text>
<line x1="1139.5" y1="1714.7" x2="1183.5" y2="1714.7" stroke="#FFC000" stroke-width="3.8" stroke-linecap="round"/>
<text x="1188.3" y="1720.3" font-size="17.3" fill="#595959" fill-opacity="0.82" textLength="276.8" lengthAdjust="spacingAndGlyphs">Otros hogares sin niños dependientes</text>
<line x1="1139.5" y1="1733.0" x2="1183.5" y2="1733.0" stroke="#70AD47" stroke-width="3.8" stroke-linecap="round"/>
<text x="1188.2" y="1738.6" font-size="17.3" fill="#595959" fill-opacity="0.82" textLength="307.9" lengthAdjust="spacingAndGlyphs">2 adultos con 1 ó más niños dependientes</text>
<line x1="1539.0" y1="1696.4" x2="1582.5" y2="1696.4" stroke="#A5A5A5" stroke-width="3.8" stroke-linecap="round"/>
<text x="1587.5" y="1701.5" font-size="17.3" fill="#595959" fill-opacity="0.82" textLength="239.4" lengthAdjust="spacingAndGlyphs">2 adultos sin niños dependientes</text>
<line x1="1539.0" y1="1715.0" x2="1582.5" y2="1715.0" stroke="#5B9BD5" stroke-width="3.8" stroke-linecap="round"/>
<text x="1587.1" y="1720.3" font-size="17.3" fill="#595959" fill-opacity="0.82" textLength="299.7" lengthAdjust="spacingAndGlyphs">1 adulto con 1 ó más niños dependientes</text>
<line x1="1539.0" y1="1733.0" x2="1582.5" y2="1733.0" stroke="#203864" stroke-width="3.8" stroke-linecap="round"/>
<text x="1587.6" y="1738.6" font-size="17.3" fill="#595959" fill-opacity="0.82" textLength="282.3" lengthAdjust="spacingAndGlyphs">Otros hogares con niños dependientes</text>
<text x="1313.8" y="1038.0" font-size="29" fill="#000" font-weight="bold">Tasa AROPE por tipo de hogar</text>
<line x1="104.1" y1="2441.1" x2="980.4" y2="2441.1" stroke="#BFBFBF" stroke-width="2.5" stroke-linecap="butt"/>
<text x="139.6" y="2470.5" font-size="18.3" fill="#595959" fill-opacity="0.82" textLength="39.9" lengthAdjust="spacingAndGlyphs">2015</text>
<text x="249.2" y="2470.5" font-size="18.3" fill="#595959" fill-opacity="0.82" textLength="39.9" lengthAdjust="spacingAndGlyphs">2016</text>
<text x="358.8" y="2470.5" font-size="18.3" fill="#595959" fill-opacity="0.82" textLength="39.9" lengthAdjust="spacingAndGlyphs">2017</text>
<text x="468.2" y="2470.5" font-size="18.3" fill="#595959" fill-opacity="0.82" textLength="39.9" lengthAdjust="spacingAndGlyphs">2018</text>
<text x="577.8" y="2470.5" font-size="18.3" fill="#595959" fill-opacity="0.82" textLength="39.9" lengthAdjust="spacingAndGlyphs">2019</text>
<text x="687.4" y="2470.5" font-size="18.3" fill="#595959" fill-opacity="0.82" textLength="39.9" lengthAdjust="spacingAndGlyphs">2020</text>
<text x="797.0" y="2470.5" font-size="18.3" fill="#595959" fill-opacity="0.82" textLength="39.9" lengthAdjust="spacingAndGlyphs">2021</text>
<text x="906.6" y="2470.5" font-size="18.3" fill="#595959" fill-opacity="0.82" textLength="39.9" lengthAdjust="spacingAndGlyphs">2022</text>
<path d="M158.6,2325.1 C172.9,2325.6 240.0,2327.9 268.6,2329.0 C297.2,2330.1 350.1,2332.8 378.7,2333.5 C407.3,2334.2 460.1,2333.3 488.7,2334.2 C517.3,2335.0 570.1,2339.2 598.7,2340.0 C627.3,2340.9 680.1,2342.7 708.8,2340.7 C737.4,2338.7 790.2,2325.3 818.8,2324.4 C847.4,2323.5 914.5,2332.3 928.8,2333.5" fill="none" stroke="#ED7D31" stroke-width="5.2" stroke-linecap="butt"/>
<path d="M158.6,2037.8 C172.9,2035.6 240.0,2019.7 268.6,2020.8 C297.2,2021.9 350.1,2042.3 378.7,2046.3 C407.3,2050.2 460.1,2049.5 488.7,2051.5 C517.3,2053.4 570.1,2058.4 598.7,2061.2 C627.3,2064.0 680.1,2073.2 708.8,2073.0 C737.4,2072.7 790.2,2058.6 818.8,2059.3 C847.4,2060.0 914.5,2075.7 928.8,2078.2" fill="none" stroke="#A5A5A5" stroke-width="5.2" stroke-linecap="butt"/>
<path d="M158.6,2360.2 C172.9,2359.2 240.0,2355.7 268.6,2352.4 C297.2,2349.1 350.1,2337.5 378.7,2334.8 C407.3,2332.1 460.1,2331.0 488.7,2331.6 C517.3,2332.2 570.1,2339.6 598.7,2339.4 C627.3,2339.1 680.1,2330.1 708.8,2329.6 C737.4,2329.1 790.2,2335.7 818.8,2335.5 C847.4,2335.2 914.5,2328.7 928.8,2327.7" fill="none" stroke="#FFC000" stroke-width="5.2" stroke-linecap="butt"/>
<path d="M158.6,2202.6 C172.9,2201.4 240.0,2195.2 268.6,2193.5 C297.2,2191.8 350.1,2191.7 378.7,2189.6 C407.3,2187.4 460.1,2177.3 488.7,2177.2 C517.3,2177.1 570.1,2187.7 598.7,2188.9 C627.3,2190.1 680.1,2187.7 708.8,2186.3 C737.4,2184.9 790.2,2177.2 818.8,2178.5 C847.4,2179.8 914.5,2193.8 928.8,2196.1" fill="none" stroke="#5B9BD5" stroke-width="5.2" stroke-linecap="butt"/>
<text x="141.9" y="2303.8" font-size="18.5" fill="#ED7D31" fill-opacity="0.82" textLength="34.9" lengthAdjust="spacingAndGlyphs">17,8</text>
<text x="250.6" y="2306.9" font-size="18.5" fill="#ED7D31" fill-opacity="0.82" textLength="34.9" lengthAdjust="spacingAndGlyphs">17,2</text>
<text x="360.9" y="2312.0" font-size="18.5" fill="#ED7D31" fill-opacity="0.82" textLength="34.9" lengthAdjust="spacingAndGlyphs">16,5</text>
<text x="470.3" y="2312.8" font-size="18.5" fill="#ED7D31" fill-opacity="0.82" textLength="34.9" lengthAdjust="spacingAndGlyphs">16,4</text>
<text x="580.4" y="2317.2" font-size="18.5" fill="#ED7D31" fill-opacity="0.82" textLength="34.9" lengthAdjust="spacingAndGlyphs">15,5</text>
<text x="688.6" y="2319.8" font-size="18.5" fill="#ED7D31" fill-opacity="0.82" textLength="34.9" lengthAdjust="spacingAndGlyphs">15,4</text>
<text x="798.9" y="2302.5" font-size="18.5" fill="#ED7D31" fill-opacity="0.82" textLength="34.9" lengthAdjust="spacingAndGlyphs">17,9</text>
<text x="909.1" y="2311.5" font-size="18.5" fill="#ED7D31" fill-opacity="0.82" textLength="34.9" lengthAdjust="spacingAndGlyphs">16,5</text>
<text x="141.8" y="2015.9" font-size="18.5" fill="#808080" fill-opacity="0.82" textLength="34.9" lengthAdjust="spacingAndGlyphs">61,9</text>
<text x="250.5" y="1998.9" font-size="18.5" fill="#808080" fill-opacity="0.82" textLength="34.9" lengthAdjust="spacingAndGlyphs">64,5</text>
<text x="360.7" y="2025.4" font-size="18.5" fill="#808080" fill-opacity="0.82" textLength="34.9" lengthAdjust="spacingAndGlyphs">60,6</text>
<text x="470.2" y="2029.8" font-size="18.5" fill="#808080" fill-opacity="0.82" textLength="34.9" lengthAdjust="spacingAndGlyphs">59,8</text>
<text x="580.0" y="2039.0" font-size="18.5" fill="#808080" fill-opacity="0.82" textLength="34.9" lengthAdjust="spacingAndGlyphs">58,3</text>
<text x="688.7" y="2051.9" font-size="18.5" fill="#808080" fill-opacity="0.82" textLength="34.9" lengthAdjust="spacingAndGlyphs">56,5</text>
<text x="799.0" y="2037.5" font-size="18.5" fill="#808080" fill-opacity="0.82" textLength="34.9" lengthAdjust="spacingAndGlyphs">58,6</text>
<text x="909.0" y="2056.3" font-size="18.5" fill="#808080" fill-opacity="0.82" textLength="34.9" lengthAdjust="spacingAndGlyphs">55,7</text>
<text x="141.9" y="2394.5" font-size="18.5" fill="#FFC000" fill-opacity="0.82" textLength="34.9" lengthAdjust="spacingAndGlyphs">12,4</text>
<text x="250.6" y="2387.5" font-size="18.5" fill="#FFC000" fill-opacity="0.82" textLength="34.9" lengthAdjust="spacingAndGlyphs">13,6</text>
<text x="360.9" y="2370.8" font-size="18.5" fill="#FFC000" fill-opacity="0.82" textLength="34.9" lengthAdjust="spacingAndGlyphs">16,3</text>
<text x="470.3" y="2367.7" font-size="18.5" fill="#FFC000" fill-opacity="0.82" textLength="34.9" lengthAdjust="spacingAndGlyphs">16,8</text>
<text x="580.4" y="2374.6" font-size="18.5" fill="#FFC000" fill-opacity="0.82" textLength="34.9" lengthAdjust="spacingAndGlyphs">15,6</text>
<text x="688.6" y="2364.3" font-size="18.5" fill="#FFC000" fill-opacity="0.82" textLength="34.9" lengthAdjust="spacingAndGlyphs">17,1</text>
<text x="798.9" y="2370.8" font-size="18.5" fill="#FFC000" fill-opacity="0.82" textLength="34.9" lengthAdjust="spacingAndGlyphs">16,2</text>
<text x="909.1" y="2362.3" font-size="18.5" fill="#FFC000" fill-opacity="0.82" textLength="34.9" lengthAdjust="spacingAndGlyphs">17,4</text>
<text x="142.0" y="2181.8" font-size="18.5" fill="#5B9BD5" fill-opacity="0.82" textLength="34.9" lengthAdjust="spacingAndGlyphs">36,6</text>
<text x="250.7" y="2172.7" font-size="18.5" fill="#5B9BD5" fill-opacity="0.82" textLength="34.9" lengthAdjust="spacingAndGlyphs">38,0</text>
<text x="360.9" y="2167.8" font-size="18.5" fill="#5B9BD5" fill-opacity="0.82" textLength="34.9" lengthAdjust="spacingAndGlyphs">38,6</text>
<text x="470.5" y="2155.5" font-size="18.5" fill="#5B9BD5" fill-opacity="0.82" textLength="34.9" lengthAdjust="spacingAndGlyphs">40,5</text>
<text x="580.5" y="2167.6" font-size="18.5" fill="#5B9BD5" fill-opacity="0.82" textLength="34.9" lengthAdjust="spacingAndGlyphs">38,7</text>
<text x="688.7" y="2164.5" font-size="18.5" fill="#5B9BD5" fill-opacity="0.82" textLength="34.9" lengthAdjust="spacingAndGlyphs">39,1</text>
<text x="799.3" y="2156.8" font-size="18.5" fill="#5B9BD5" fill-opacity="0.82" textLength="34.9" lengthAdjust="spacingAndGlyphs">40,3</text>
<text x="909.0" y="2173.5" font-size="18.5" fill="#5B9BD5" fill-opacity="0.82" textLength="34.9" lengthAdjust="spacingAndGlyphs">37,6</text>
<line x1="210.5" y1="2526.6" x2="257.1" y2="2526.6" stroke="#ED7D31" stroke-width="5.2" stroke-linecap="round"/>
<text x="261.7" y="2533.0" font-size="18.3" fill="#595959" fill-opacity="0.82" textLength="81.8" lengthAdjust="spacingAndGlyphs">Ocupados</text>
<line x1="371.8" y1="2526.6" x2="417.5" y2="2526.6" stroke="#A5A5A5" stroke-width="5.2" stroke-linecap="round"/>
<text x="423.5" y="2533.0" font-size="18.3" fill="#595959" fill-opacity="0.82" textLength="66.8" lengthAdjust="spacingAndGlyphs">Parados</text>
<line x1="519.1" y1="2526.6" x2="564.4" y2="2526.6" stroke="#FFC000" stroke-width="5.2" stroke-linecap="round"/>
<text x="571.1" y="2533.0" font-size="18.3" fill="#595959" fill-opacity="0.82" textLength="75.8" lengthAdjust="spacingAndGlyphs">Jubilados</text>
<line x1="675.1" y1="2526.6" x2="720.9" y2="2526.6" stroke="#5B9BD5" stroke-width="5.2" stroke-linecap="round"/>
<text x="725.9" y="2533.0" font-size="18.3" fill="#595959" fill-opacity="0.82" textLength="118.6" lengthAdjust="spacingAndGlyphs">Otros inactivos</text>
<text x="234.7" y="1870.2" font-size="29" fill="#000" font-weight="bold" textLength="576.2" lengthAdjust="spacingAndGlyphs">Tasa AROPE por relación con la actividad</text>
<line x1="1134.6" y1="2450.0" x2="1965.7" y2="2450.0" stroke="#BFBFBF" stroke-width="2.8" stroke-linecap="butt"/>
<text x="1167.4" y="2476.6" font-size="17.9" fill="#595959" fill-opacity="0.82" textLength="37.8" lengthAdjust="spacingAndGlyphs">2015</text>
<text x="1271.5" y="2476.6" font-size="17.9" fill="#595959" fill-opacity="0.82" textLength="37.8" lengthAdjust="spacingAndGlyphs">2016</text>
<text x="1375.6" y="2476.6" font-size="17.9" fill="#595959" fill-opacity="0.82" textLength="37.8" lengthAdjust="spacingAndGlyphs">2017</text>
<text x="1479.5" y="2476.6" font-size="17.9" fill="#595959" fill-opacity="0.82" textLength="37.8" lengthAdjust="spacingAndGlyphs">2018</text>
<text x="1583.6" y="2476.6" font-size="17.9" fill="#595959" fill-opacity="0.82" textLength="37.8" lengthAdjust="spacingAndGlyphs">2019</text>
<text x="1687.6" y="2476.6" font-size="17.9" fill="#595959" fill-opacity="0.82" textLength="37.8" lengthAdjust="spacingAndGlyphs">2020</text>
<text x="1791.7" y="2476.6" font-size="17.9" fill="#595959" fill-opacity="0.82" textLength="37.8" lengthAdjust="spacingAndGlyphs">2021</text>
<text x="1895.8" y="2476.6" font-size="17.9" fill="#595959" fill-opacity="0.82" textLength="37.8" lengthAdjust="spacingAndGlyphs">2022</text>
<polyline points="1185.2,2182.1 1289.5,2187.1 1393.7,2196.0 1498.0,2191.1 1602.2,2211.9 1706.5,2189.1 1810.8,2180.2 1915.0,2198.0" fill="none" stroke="#375623" stroke-width="5" stroke-linejoin="round" stroke-linecap="butt"/>
<polyline points="1185.2,2314.8 1289.5,2305.9 1393.7,2319.8 1498.0,2324.7 1602.2,2316.8 1706.5,2315.8 1810.8,2302.0 1915.0,2309.9" fill="none" stroke="#255E91" stroke-width="5" stroke-linejoin="round" stroke-linecap="butt"/>
<polyline points="1185.2,2117.8 1289.5,2107.9 1393.7,2101.9 1498.0,2077.2 1602.2,2105.9 1706.5,2073.2 1810.8,2069.3 1915.0,2092.0" fill="none" stroke="#5B9BD5" stroke-width="5" stroke-linejoin="round" stroke-linecap="butt"/>
<polyline points="1185.2,2064.3 1289.5,2070.3 1393.7,2100.0 1498.0,2105.9 1602.2,2124.7 1706.5,2118.8 1810.8,2108.9 1915.0,2137.6" fill="none" stroke="#FFC000" stroke-width="5" stroke-linejoin="round" stroke-linecap="butt"/>
<text x="1167.3" y="2214.5" font-size="17.9" fill="#375623" fill-opacity="0.82" textLength="33.8" lengthAdjust="spacingAndGlyphs">27,0</text>
<text x="1272.5" y="2220.9" font-size="17.9" fill="#375623" fill-opacity="0.82" textLength="33.8" lengthAdjust="spacingAndGlyphs">26,5</text>
<text x="1375.5" y="2229.2" font-size="17.9" fill="#375623" fill-opacity="0.82" textLength="33.8" lengthAdjust="spacingAndGlyphs">25,6</text>
<text x="1479.8" y="2224.0" font-size="17.9" fill="#375623" fill-opacity="0.82" textLength="33.8" lengthAdjust="spacingAndGlyphs">26,1</text>
<text x="1583.6" y="2245.4" font-size="17.9" fill="#375623" fill-opacity="0.82" textLength="33.8" lengthAdjust="spacingAndGlyphs">24,0</text>
<text x="1687.4" y="2221.5" font-size="17.9" fill="#375623" fill-opacity="0.82" textLength="33.8" lengthAdjust="spacingAndGlyphs">26,3</text>
<text x="1791.0" y="2213.7" font-size="17.9" fill="#375623" fill-opacity="0.82" textLength="33.8" lengthAdjust="spacingAndGlyphs">27,2</text>
<text x="1896.1" y="2230.0" font-size="17.9" fill="#375623" fill-opacity="0.82" textLength="33.8" lengthAdjust="spacingAndGlyphs">25,4</text>
<text x="1167.9" y="2349.0" font-size="17.9" fill="#255E91" fill-opacity="0.82" textLength="33.8" lengthAdjust="spacingAndGlyphs">13,6</text>
<text x="1273.0" y="2340.0" font-size="17.9" fill="#255E91" fill-opacity="0.82" textLength="33.8" lengthAdjust="spacingAndGlyphs">14,5</text>
<text x="1375.5" y="2353.4" font-size="17.9" fill="#255E91" fill-opacity="0.82" textLength="33.8" lengthAdjust="spacingAndGlyphs">13,1</text>
<text x="1479.6" y="2359.3" font-size="17.9" fill="#255E91" fill-opacity="0.82" textLength="33.8" lengthAdjust="spacingAndGlyphs">12,6</text>
<text x="1583.2" y="2350.1" font-size="17.9" fill="#255E91" fill-opacity="0.82" textLength="33.8" lengthAdjust="spacingAndGlyphs">13,4</text>
<text x="1687.5" y="2349.0" font-size="17.9" fill="#255E91" fill-opacity="0.82" textLength="33.8" lengthAdjust="spacingAndGlyphs">13,5</text>
<text x="1791.1" y="2335.4" font-size="17.9" fill="#255E91" fill-opacity="0.82" textLength="33.8" lengthAdjust="spacingAndGlyphs">14,9</text>
<text x="1895.7" y="2343.1" font-size="17.9" fill="#255E91" fill-opacity="0.82" textLength="33.8" lengthAdjust="spacingAndGlyphs">14,1</text>
<text x="1167.0" y="2101.4" font-size="17.9" fill="#5B9BD5" fill-opacity="0.82" textLength="33.8" lengthAdjust="spacingAndGlyphs">33,5</text>
<text x="1277.8" y="2124.3" font-size="17.9" fill="#5B9BD5" fill-opacity="0.82" textLength="33.8" lengthAdjust="spacingAndGlyphs">34,5</text>
<text x="1375.7" y="2081.3" font-size="17.9" fill="#5B9BD5" fill-opacity="0.82" textLength="33.8" lengthAdjust="spacingAndGlyphs">35,1</text>
<text x="1480.0" y="2056.6" font-size="17.9" fill="#5B9BD5" fill-opacity="0.82" textLength="33.8" lengthAdjust="spacingAndGlyphs">37,6</text>
<text x="1583.8" y="2085.7" font-size="17.9" fill="#5B9BD5" fill-opacity="0.82" textLength="33.8" lengthAdjust="spacingAndGlyphs">34,7</text>
<text x="1687.6" y="2052.2" font-size="17.9" fill="#5B9BD5" fill-opacity="0.82" textLength="33.8" lengthAdjust="spacingAndGlyphs">38,0</text>
<text x="1791.2" y="2048.9" font-size="17.9" fill="#5B9BD5" fill-opacity="0.82" textLength="33.8" lengthAdjust="spacingAndGlyphs">38,4</text>
<text x="1896.3" y="2071.0" font-size="17.9" fill="#5B9BD5" fill-opacity="0.82" textLength="33.8" lengthAdjust="spacingAndGlyphs">36,1</text>
<text x="1147.4" y="2056.7" font-size="17.9" fill="#FFC000" fill-opacity="0.82" textLength="33.8" lengthAdjust="spacingAndGlyphs">38,9</text>
<text x="1284.2" y="2054.8" font-size="17.9" fill="#FFC000" fill-opacity="0.82" textLength="33.8" lengthAdjust="spacingAndGlyphs">38,3</text>
<text x="1375.7" y="2133.3" font-size="17.9" fill="#FFC000" fill-opacity="0.82" textLength="33.8" lengthAdjust="spacingAndGlyphs">35,3</text>
<text x="1480.0" y="2139.0" font-size="17.9" fill="#FFC000" fill-opacity="0.82" textLength="33.8" lengthAdjust="spacingAndGlyphs">34,7</text>
<text x="1583.8" y="2157.8" font-size="17.9" fill="#FFC000" fill-opacity="0.82" textLength="33.8" lengthAdjust="spacingAndGlyphs">32,8</text>
<text x="1687.6" y="2152.7" font-size="17.9" fill="#FFC000" fill-opacity="0.82" textLength="33.8" lengthAdjust="spacingAndGlyphs">33,4</text>
<text x="1791.2" y="2141.6" font-size="17.9" fill="#FFC000" fill-opacity="0.82" textLength="33.8" lengthAdjust="spacingAndGlyphs">34,4</text>
<text x="1896.3" y="2170.7" font-size="17.9" fill="#FFC000" fill-opacity="0.82" textLength="33.8" lengthAdjust="spacingAndGlyphs">31,5</text>
<line x1="1178.5" y1="2503.9" x2="1225.1" y2="2503.9" stroke="#5B9BD5" stroke-width="4.2" stroke-linecap="round"/>
<text x="1230.1" y="2510.5" font-size="17.9" fill="#595959" fill-opacity="0.82" textLength="216.4" lengthAdjust="spacingAndGlyphs">Educación primaria o inferior</text>
<line x1="1534.2" y1="2503.9" x2="1582.5" y2="2503.9" stroke="#FFC000" stroke-width="4.2" stroke-linecap="round"/>
<text x="1586.5" y="2510.5" font-size="17.9" fill="#595959" fill-opacity="0.82" textLength="277.0" lengthAdjust="spacingAndGlyphs">Educación secundaria primera etapa</text>
<line x1="1178.5" y1="2536.4" x2="1225.1" y2="2536.4" stroke="#375623" stroke-width="4.2" stroke-linecap="round"/>
<text x="1230.1" y="2543.0" font-size="17.9" fill="#595959" fill-opacity="0.82" textLength="284.6" lengthAdjust="spacingAndGlyphs">Educación secundaria segunda etapa</text>
<line x1="1534.2" y1="2536.4" x2="1582.5" y2="2536.4" stroke="#255E91" stroke-width="4.2" stroke-linecap="round"/>
<text x="1586.5" y="2543.0" font-size="17.9" fill="#595959" fill-opacity="0.82" textLength="145.6" lengthAdjust="spacingAndGlyphs">Educación superior</text>
<text x="1277.4" y="1870.2" font-size="29" fill="#000" font-weight="bold" textLength="494.6" lengthAdjust="spacingAndGlyphs">Tasa AROPE por nivel de formación</text>
</svg>
</body></html>
